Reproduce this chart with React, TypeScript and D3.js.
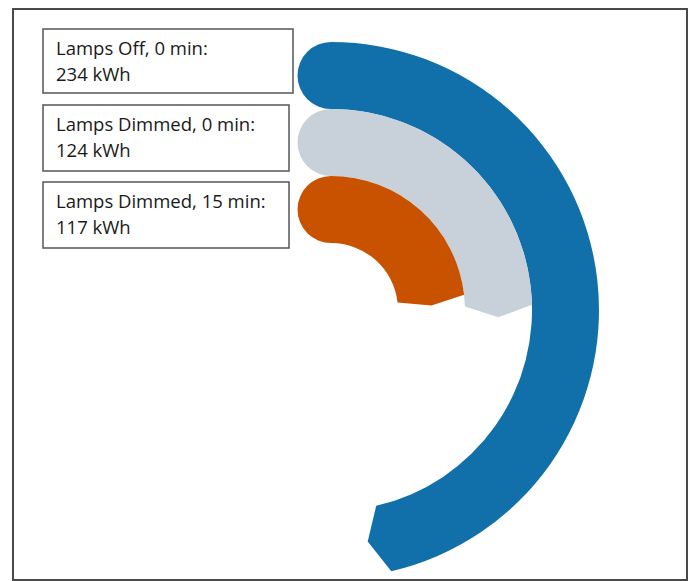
import React from "react";
import * as d3 from "d3";

// Energy use per lighting scenario
const categories = ["Lamps Off, 0 min", "Lamps Dimmed, 0 min", "Lamps Dimmed, 15 min"];
const energyKWh = [234, 124, 117];
const unitLabel = "kWh";
const colors = ["#1170aa", "#c8d0d9", "#c85200"];

const W = 689;
const H = 581;

export default function App() {
  const cx = 331;
  const cy = 310;

  // radial bands: first category outermost
  const radius = d3
    .scaleBand<string>()
    .domain([...categories].reverse())
    .range([67, 268])
    .paddingInner(0);

  const angle = d3
    .scaleLinear()
    .domain([0, 234])
    .range([0, (167 * Math.PI) / 180]);

  const tipAngle = (4 * Math.PI) / 180;
  const HALF = Math.PI / 2;

  const polar = (r: number, a: number): [number, number] => [
    cx + r * Math.sin(a),
    cy - r * Math.cos(a),
  ];

  // one closed outline per bar: rounded start, pointed end
  const barPath = (r0: number, r1: number, end: number) => {
    const rm = (r0 + r1) / 2;
    const p = d3.path();
    const s = polar(r1, 0);
    p.moveTo(s[0], s[1]);
    p.arc(cx, cy, r1, -HALF, end - HALF, false);
    const tip = polar(rm, end + tipAngle);
    p.lineTo(tip[0], tip[1]);
    const pin = polar(r0, end);
    p.lineTo(pin[0], pin[1]);
    p.arc(cx, cy, r0, end - HALF, -HALF, true);
    p.arc(cx, cy - rm, (r1 - r0) / 2, HALF, 3 * HALF, false);
    p.closePath();
    return p.toString();
  };

  const boxes = [
    { x: 43, y: 29, w: 250, h: 64 },
    { x: 43, y: 105, w: 246, h: 66 },
    { x: 43, y: 182, w: 246, h: 66 },
  ];

  const font = "'Open Sans', sans-serif";

  return (
    <div style={{ position: "absolute", left: 0, top: 0 }}>
      <svg width={W} height={H} style={{ display: "block" }}>
        <rect x={0} y={0} width={W} height={H} fill="#ffffff" />
        <rect
          x={13}
          y={9}
          width={674}
          height={571}
          fill="none"
          stroke="#4a4a4a"
          strokeWidth={2}
        />
        {categories.map((c, i) => {
          const r0 = radius(c)!;
          const r1 = r0 + radius.bandwidth();
          return <path key={c} d={barPath(r0, r1, angle(energyKWh[i]))} fill={colors[i]} />;
        })}
        {categories.map((c, i) => {
          const b = boxes[i];
          return (
            <g key={`lbl-${c}`}>
              <rect
                x={b.x}
                y={b.y}
                width={b.w}
                height={b.h}
                fill="#ffffff"
                stroke="#555555"
                strokeWidth={1.5}
              />
              <text x={b.x + 13} y={b.y + 26} fontFamily={font} fontSize={18.5} fill="#1a1a1a">
                {`${c}:`}
              </text>
              <text x={b.x + 13} y={b.y + 52} fontFamily={font} fontSize={18.5} fill="#1a1a1a">
                {`${energyKWh[i]} ${unitLabel}`}
              </text>
            </g>
          );
        })}
      </svg>
    </div>
  );
}
